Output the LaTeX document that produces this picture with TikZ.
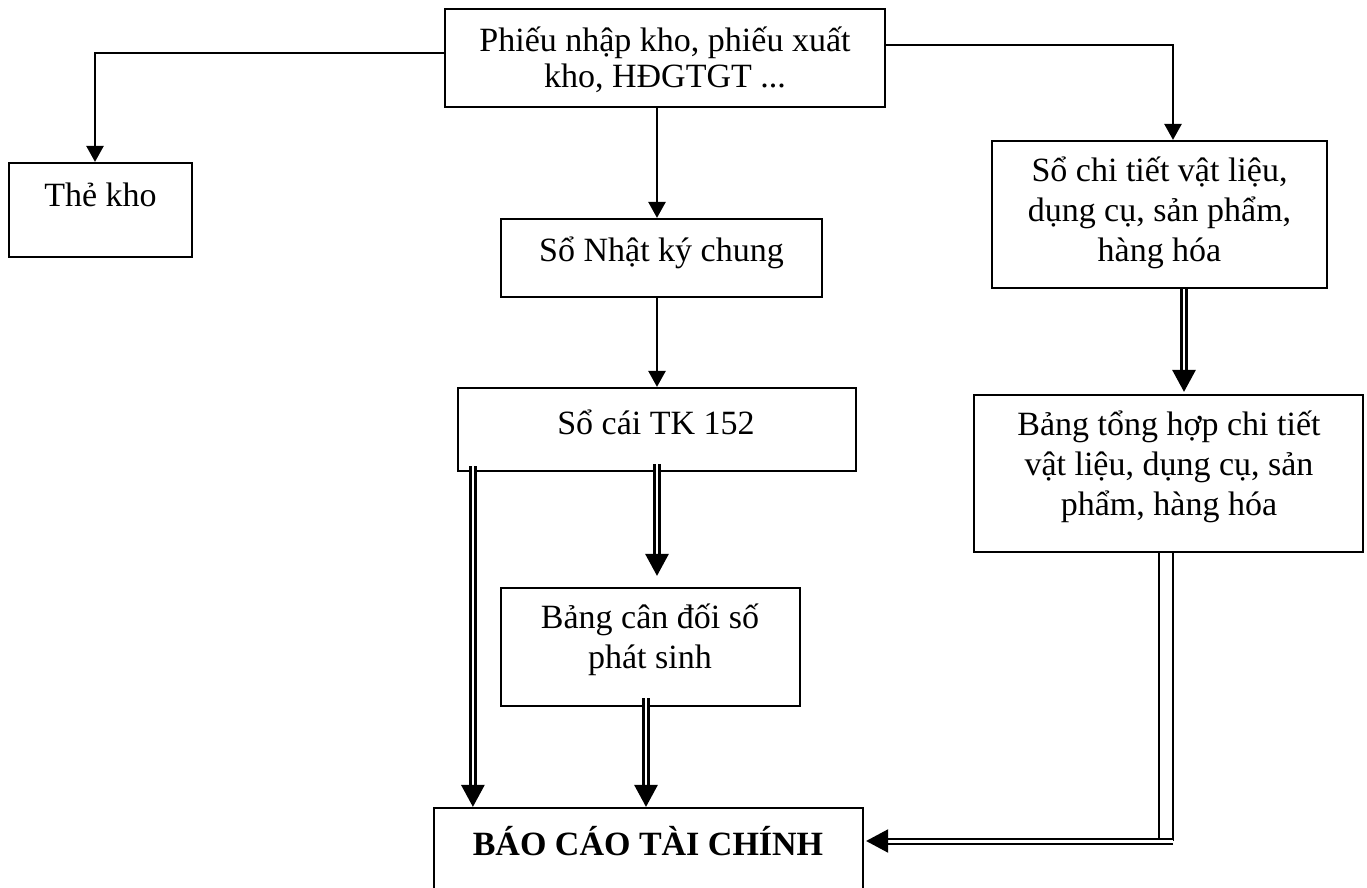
\documentclass[tikz,border=0pt]{standalone}
\usepackage{fontspec}
\setmainfont{Liberation Serif}
\usetikzlibrary{arrows.meta}
\begin{document}
\begin{tikzpicture}[x=0.5pt,y=-0.5pt,
  box/.style={draw, line width=1.1pt, inner sep=0pt},
  lbl/.style={align=center, inner sep=0pt, font=\fontsize{17pt}{20pt}\selectfont},
  arr/.style={line width=1.3pt, -{Triangle[width=8.5pt,length=8pt]}},
  dline/.style={double, line width=1.45pt, double distance=1.4pt},
  darr/.style={dline, -{Triangle[width=11.5pt,length=11pt]}},
]
\useasboundingbox (0,0) rectangle (1367,888);
\clip (0,0) rectangle (1367,888);

% boxes and their captions
\node[box, minimum width=220pt, minimum height=49pt] (top) at (665,58) {};
\node[lbl, font=\fontsize{17pt}{18pt}\selectfont] (top-t) at (665,60) {Phiếu nhập kho, phiếu xuất\\kho, HĐGTGT ...};

\node[box, minimum width=91.5pt, minimum height=47pt] (thekho) at (100.5,210) {};
\node[lbl] (thekho-t) at (100.5,195) {Thẻ kho};

\node[box, minimum width=160.5pt, minimum height=39pt] (nhatky) at (661.5,258) {};
\node[lbl] (nhatky-t) at (661.5,253) {Sổ Nhật ký chung};

\node[box, minimum width=199pt, minimum height=41.5pt] (socai) at (657,429.5) {};
\node[lbl] (socai-t) at (656,422) {Sổ cái TK 152};

\node[box, minimum width=149.5pt, minimum height=59pt] (candoi) at (650.5,647) {};
\node[lbl] (candoi-t) at (650,640) {Bảng cân đối số\\phát sinh};

\node[box, minimum width=167.5pt, minimum height=73.5pt] (chitiet) at (1159.5,214.5) {};
\node[lbl] (chitiet-t) at (1159.5,213) {Sổ chi tiết vật liệu,\\dụng cụ, sản phẩm,\\hàng hóa};

\node[box, minimum width=194.5pt, minimum height=78.5pt] (tonghop) at (1168.5,473.5) {};
\node[lbl] (tonghop-t) at (1169,467) {Bảng tổng hợp chi tiết\\vật liệu, dụng cụ, sản\\phẩm, hàng hóa};

\node[box, minimum width=214.5pt, minimum height=51pt] (bctc) at (648.5,859) {};
\node[lbl, font=\fontsize{17pt}{20pt}\selectfont\bfseries] (bctc-t) at (648,841) {BÁO CÁO TÀI CHÍNH};

% single-line connectors
\draw[arr] ([yshift=2.5pt]top.west) -| ([xshift=-2.75pt]thekho.north);
\draw[arr] ([yshift=6.5pt]top.east) -| ([xshift=6.75pt]chitiet.north);
\draw[arr] (top.south -| socai.north) -- (nhatky.north -| socai.north);
\draw[arr] (nhatky.south -| socai.north) -- (socai.north);

% double-line connectors
\draw[darr] ([yshift=4pt]socai.south) -- ([yshift=5.5pt]candoi.north -| socai.south);
\draw[darr] ([shift={(8pt,3pt)}]socai.south west) -- ([xshift=8pt]socai.south west |- bctc.north);
\draw[darr] ([shift={(-2.25pt,4.5pt)}]candoi.south) -- ([xshift=-2.25pt]candoi.south |- bctc.north);
\draw[darr] ([xshift=12.25pt]chitiet.south) -- ([xshift=12.25pt,yshift=1pt]chitiet.south |- tonghop.north);

% summary table down and across to the financial report
\path ([xshift=-1.25pt]tonghop.south |- bctc-t.center) coordinate (bend);
\draw[dline, line width=0.8pt, double distance=6.2pt] (tonghop.south -| bend) -- (bend);
\draw[darr, line width=1pt, double distance=1.5pt] ([xshift=3.5pt]bend) -- ([xshift=1pt]bend -| bctc.east);
\end{tikzpicture}
\end{document}
